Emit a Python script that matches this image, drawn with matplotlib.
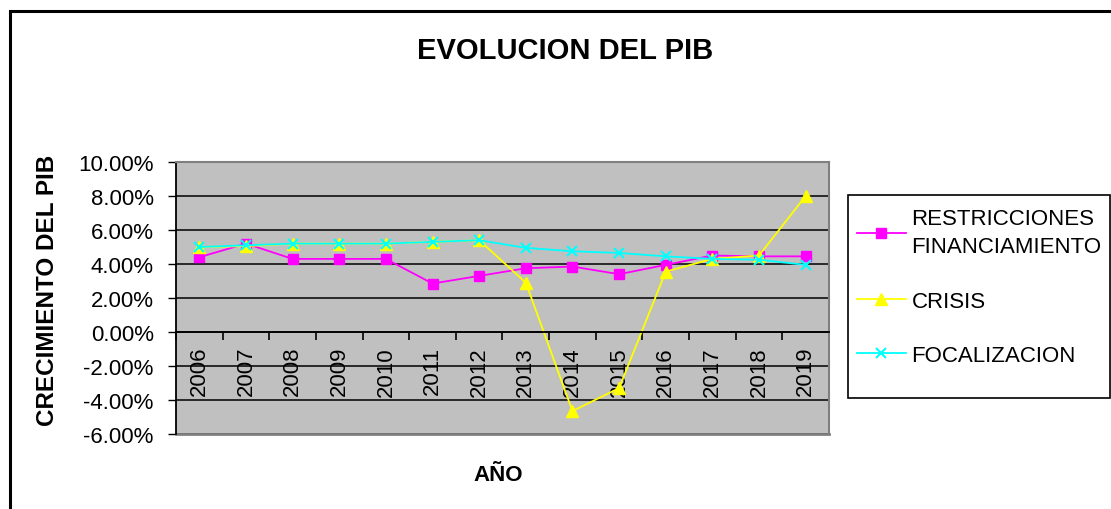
import numpy as np
import matplotlib
matplotlib.use("Agg")
import matplotlib.pyplot as plt
from matplotlib.patches import Rectangle
from matplotlib.ticker import FixedLocator, FuncFormatter

plt.rcParams['font.family'] = ['Liberation Sans', 'DejaVu Sans']

# Datos (crecimiento del PIB en %)
anios = ["2006", "2007", "2008", "2009", "2010", "2011", "2012",
         "2013", "2014", "2015", "2016", "2017", "2018", "2019"]
restricciones = [4.4, 5.2, 4.3, 4.3, 4.3, 2.85, 3.3, 3.75, 3.85, 3.4, 3.95, 4.5, 4.45, 4.45]
crisis = [5.0, 5.05, 5.2, 5.2, 5.2, 5.3, 5.4, 2.9, -4.65, -3.3, 3.55, 4.3, 4.5, 8.0]
focalizacion = [5.0, 5.1, 5.2, 5.2, 5.2, 5.3, 5.4, 4.95, 4.75, 4.65, 4.45, 4.3, 4.25, 3.95]
y_ticks = [-6, -4, -2, 0, 2, 4, 6, 8, 10]

W, H = 1111, 510
fig = plt.figure(figsize=(W / 100, H / 100), dpi=100)
ax = fig.add_axes([176 / W, 1 - 435 / H, 653 / W, 272 / H])
ax.set_facecolor("#C0C0C0")

x = np.arange(len(anios))
ax.plot(x, restricciones, color="#FF00FF", lw=1.3, marker="s", markersize=7.5,
        label="RESTRICCIONES\nFINANCIAMIENTO")
ax.plot(x, crisis, color="#FFFF00", lw=1.3, marker="^", markersize=9,
        label="CRISIS")
ax.plot(x, focalizacion, color="#00FFFF", lw=1.3, marker="x", markersize=6.5,
        markeredgewidth=1.5, label="FOCALIZACION")

ax.set_xlim(-0.5, len(anios) - 0.5)
ax.set_ylim(-6, 10)

# eje y
ax.yaxis.set_major_locator(FixedLocator(y_ticks))
ax.yaxis.set_major_formatter(FuncFormatter(lambda v, p: f"{v:.2f}%"))
ax.tick_params(axis="y", length=6, width=1, labelsize=16, pad=10)
ax.yaxis.grid(True, color="black", lw=1.1)
ax.set_axisbelow(True)

# eje x cruzando en 0, etiquetas giradas
ax.spines["bottom"].set_position(("data", 0))
ax.set_xticks(np.arange(-0.5, len(anios), 1))
ax.set_xticklabels([])
ax.set_xticks(x, minor=True)
ax.set_xticklabels(anios, minor=True, rotation=90, fontsize=16)
ax.tick_params(axis="x", which="major", length=6, width=1.2, direction="out")
ax.tick_params(axis="x", which="minor", length=0, pad=10)
ax.spines["bottom"].set_linewidth(1.3)
ax.spines["left"].set_linewidth(1.3)
for s in ["top", "right"]:
    ax.spines[s].set_color("#808080")
    ax.spines[s].set_linewidth(1.5)
ax.axhline(-6, color="#808080", lw=2, clip_on=False)

# textos
fig.text(565 / W, 1 - 51 / H, "EVOLUCION DEL PIB", fontsize=21,
         fontweight="bold", ha="center", va="center")
fig.text(48 / W, 1 - 290 / H, "CRECIMIENTO DEL PIB", fontsize=17.5,
         fontweight="bold", rotation=90, ha="center", va="center")
fig.text(498 / W, 1 - 476 / H, "AÑO", fontsize=16,
         fontweight="bold", ha="center", va="center")

# leyenda (marco dibujado aparte, como en Excel)
leg = ax.legend(loc="upper left", bbox_to_anchor=(857 / W, 1 - 209 / H),
                bbox_transform=fig.transFigure, borderaxespad=0, fontsize=16,
                frameon=False, handlelength=2.2, handletextpad=0.25,
                labelspacing=1.5, borderpad=0)
plt.setp(leg.get_texts(), linespacing=1.45)
fig.add_artist(Rectangle((848 / W, 1 - 399 / H), 262 / W, 203 / H,
                         transform=fig.transFigure, fill=False,
                         edgecolor="black", lw=1.2))

# marco del grafico
fig.add_artist(Rectangle((10 / W, -0.1), 1.1, 1.1 - 12 / H,
                         transform=fig.transFigure, fill=False,
                         edgecolor="black", lw=2.2))

fig.savefig("out.png", dpi=100)
